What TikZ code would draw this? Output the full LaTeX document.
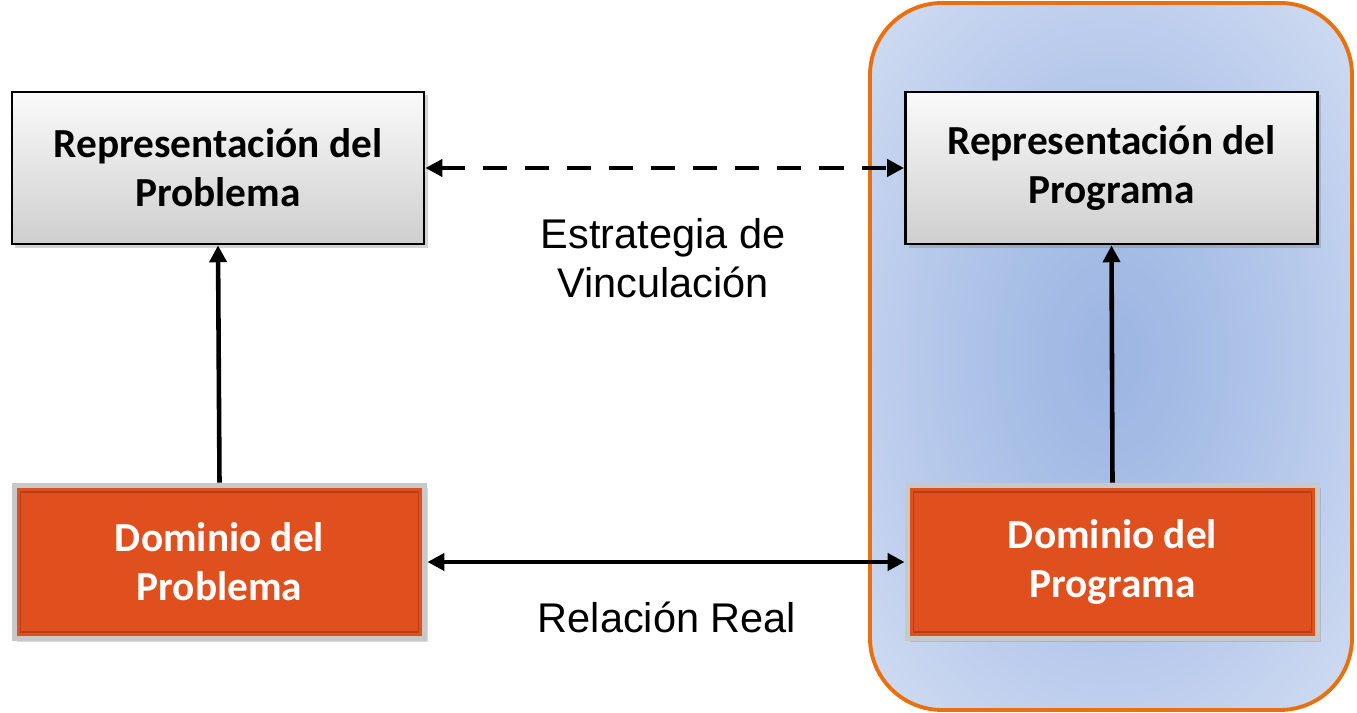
\documentclass[tikz,border=0pt]{standalone}
\usepackage{fontspec}
\setmainfont{Carlito}
\newfontfamily\arialf{Liberation Sans}
\usetikzlibrary{arrows.meta,shadows}
\definecolor{orangebox}{HTML}{E0501F}
\definecolor{orangedark}{HTML}{B83E14}
\definecolor{frameorange}{HTML}{E8700F}
\definecolor{blueA}{HTML}{9CB5E2}
\definecolor{blueB}{HTML}{A8BFE6}
\definecolor{blueC}{HTML}{BACBEC}
\definecolor{blueD}{HTML}{CBD8F0}
\definecolor{blueE}{HTML}{DCE4F4}
\definecolor{bevelgray}{HTML}{C8C8C8}
\pgfdeclareradialshading{progshade}{\pgfpoint{0bp}{0bp}}{color(0bp)=(blueA); color(11bp)=(blueB); color(22bp)=(blueC); color(32bp)=(blueD); color(50bp)=(blueE)}
\tikzset{
  repbox/.style={draw=black, line width=0.75pt, top color=white!96!gray, bottom color=gray!38,
    minimum width=4.12cm, minimum height=1.52cm, align=center, inner sep=0pt,
    font=\fontsize{11.75}{13.9}\selectfont\bfseries, text=black,
    drop shadow={opacity=0.35, shadow xshift=0.035cm, shadow yshift=-0.035cm}},
  dombox/.style={draw=bevelgray, line width=1.6pt, fill=orangebox,
    minimum width=4.1cm, minimum height=1.53cm, align=center, inner sep=0pt,
    font=\fontsize{11.75}{13.9}\selectfont\bfseries, text=white,
    drop shadow={opacity=0.3, shadow xshift=0.03cm, shadow yshift=-0.03cm}},
  innerline/.style={draw=orangedark, line width=0.5pt},
  lbl/.style={font=\arialf\fontsize{11.8}{13.9}\selectfont, align=center, text=black},
  conn/.style={line width=1.3pt, {Triangle[length=4.8pt,width=4.8pt]}-{Triangle[length=4.8pt,width=4.8pt]}},
  upconn/.style={line width=1.3pt, -{Triangle[length=4.8pt,width=4.8pt]}},
  dashconn/.style={conn, dash pattern=on 0.24cm off 0.18cm},
  frame/.style={draw=frameorange, line width=1.1pt, rounded corners=0.72cm, shading=progshade}
}
\begin{document}
\begin{tikzpicture}[x=0.01cm,y=-0.01cm]
\useasboundingbox (0,0) rectangle (1357,713);
\path[frame] (870,3) rectangle (1352,710);

\node[repbox] (rp) at (218,168) {Representación del\\Problema};
\node[repbox] (rg) at (1111.5,168) {Representación del\\Programa};
\node[dombox] (dp) at (219.5,562) {Dominio del\\Problema};
\node[dombox] (dg) at (1112.5,562) {Dominio del\\Programa};
\draw[innerline] ([shift={(0.09cm,-0.09cm)}]dp.north west) rectangle ([shift={(-0.09cm,0.09cm)}]dp.south east);
\draw[innerline] ([shift={(0.09cm,-0.09cm)}]dg.north west) rectangle ([shift={(-0.09cm,0.09cm)}]dg.south east);

\draw[upconn] (dp.north) -- (rp.south);
\draw[upconn] (dg.north) -- (rg.south);
\draw[dashconn] (rp.east) -- (rg.west);
\draw[conn] (dp.east) -- (dg.west);

\node[lbl] (est) at (663,258) {Estrategia de\\Vinculación};
\node[lbl] (rel) at (667,617) {Relación Real};
\end{tikzpicture}
\end{document}
